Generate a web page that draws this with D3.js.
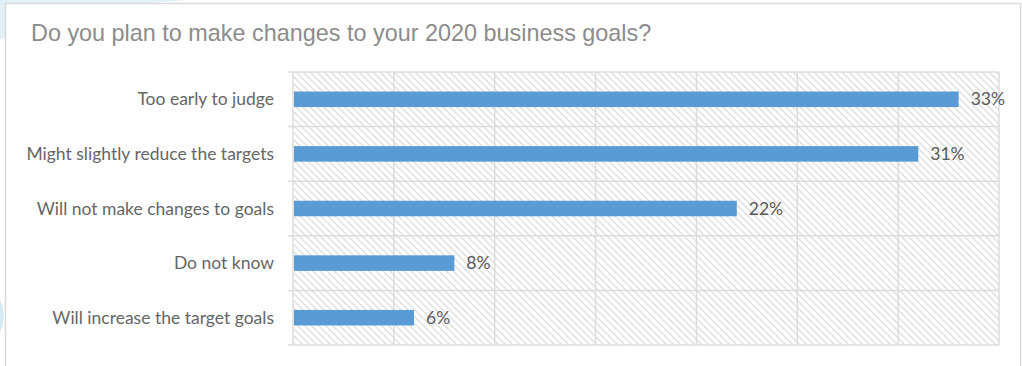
<!DOCTYPE html>
<html>
<head>
<meta charset="utf-8">
<script src="https://cdn.jsdelivr.net/npm/d3@7"></script>
<style>
  html, body { margin: 0; padding: 0; background: #ffffff; overflow: hidden; }
  svg { display: block; }
</style>
</head>
<body>
<svg id="chart" width="1022" height="366"></svg>
<script>
// Survey answers, top to bottom
const categories = [
  "Too early to judge",
  "Might slightly reduce the targets",
  "Will not make changes to goals",
  "Do not know",
  "Will increase the target goals"
];
const shares = [33, 31, 22, 8, 6];
const xTicks = [0, 5, 10, 15, 20, 25, 30, 35];
const titleText = "Do you plan to make changes to your 2020 business goals?";

const svg = d3.select("#chart");
const plot = { left: 293, right: 999, top: 72, bottom: 345 };

// soft blue backdrop peeking out behind the card
svg.append("path")
  .attr("d", "M0,0 L185,0 C120,6 40,12 0,40 Z")
  .attr("fill", "#e2f1f7");
svg.append("path")
  .attr("d", "M0,300 C5,310 5,322 0,332 Z")
  .attr("fill", "#d6ebf3");

// card
svg.append("rect")
  .attr("x", 5.5).attr("y", 3.5)
  .attr("width", 1015).attr("height", 420)
  .attr("fill", "#ffffff")
  .attr("stroke", "#dadada")
  .attr("stroke-width", 1.5);

svg.append("text")
  .attr("x", 31).attr("y", 41)
  .attr("font-family", "'Liberation Sans', Arial, sans-serif")
  .attr("font-size", 23.4)
  .attr("fill", "#8c8c8c")
  .text(titleText);

// diagonal hatch fill for the plot area
const defs = svg.append("defs");
const pat = defs.append("pattern")
  .attr("id", "hatch")
  .attr("patternUnits", "userSpaceOnUse")
  .attr("width", 7).attr("height", 7);
pat.append("rect").attr("width", 7).attr("height", 7).attr("fill", "#ffffff");
pat.append("path")
  .attr("d", "M-1,-1 L8,8 M-1,6 L1,8 M6,-1 L8,1")
  .attr("stroke", "#dedede")
  .attr("stroke-width", 1.3);

const x = d3.scaleLinear().domain([0, 35]).range([plot.left, plot.right]);
const y = d3.scaleBand().domain(categories).range([plot.top, plot.bottom]).padding(0);

svg.append("rect")
  .attr("x", plot.left).attr("y", plot.top)
  .attr("width", plot.right - plot.left)
  .attr("height", plot.bottom - plot.top)
  .attr("fill", "url(#hatch)");

const gridColor = "#dcdcdc";

// vertical gridlines
svg.append("g")
  .selectAll("line")
  .data(xTicks)
  .join("line")
  .attr("x1", d => x(d)).attr("x2", d => x(d))
  .attr("y1", plot.top).attr("y2", plot.bottom)
  .attr("stroke", gridColor)
  .attr("stroke-width", 1.5);

// horizontal category boundaries with small ticks on the left
const bounds = categories.map(c => y(c)).concat([plot.bottom]);
svg.append("g")
  .selectAll("line")
  .data(bounds)
  .join("line")
  .attr("x1", plot.left - 5).attr("x2", plot.right)
  .attr("y1", d => d).attr("y2", d => d)
  .attr("stroke", gridColor)
  .attr("stroke-width", 1.5);

// bars
const barH = y.bandwidth() * 0.285;
svg.append("g")
  .selectAll("rect")
  .data(categories)
  .join("rect")
  .attr("x", x(0) + 1)
  .attr("y", d => y(d) + y.bandwidth() / 2 - barH / 2)
  .attr("width", (d, i) => x(shares[i]) - x(0) - 1)
  .attr("height", barH)
  .attr("fill", "#5b9bd5");

const labelFont = "Lato, 'Open Sans', sans-serif";

// value labels
svg.append("g")
  .selectAll("text")
  .data(categories)
  .join("text")
  .attr("x", (d, i) => x(shares[i]) + 12)
  .attr("y", d => y(d) + y.bandwidth() / 2)
  .attr("dy", "0.35em")
  .attr("font-family", labelFont)
  .attr("font-size", 17.5)
  .attr("fill", "#595959")
  .text((d, i) => shares[i] + "%");

// category labels
svg.append("g")
  .selectAll("text")
  .data(categories)
  .join("text")
  .attr("x", 274)
  .attr("y", d => y(d) + y.bandwidth() / 2)
  .attr("dy", "0.35em")
  .attr("text-anchor", "end")
  .attr("font-family", labelFont)
  .attr("font-size", 17.5)
  .attr("fill", "#666666")
  .text(d => d);
</script>
</body>
</html>
